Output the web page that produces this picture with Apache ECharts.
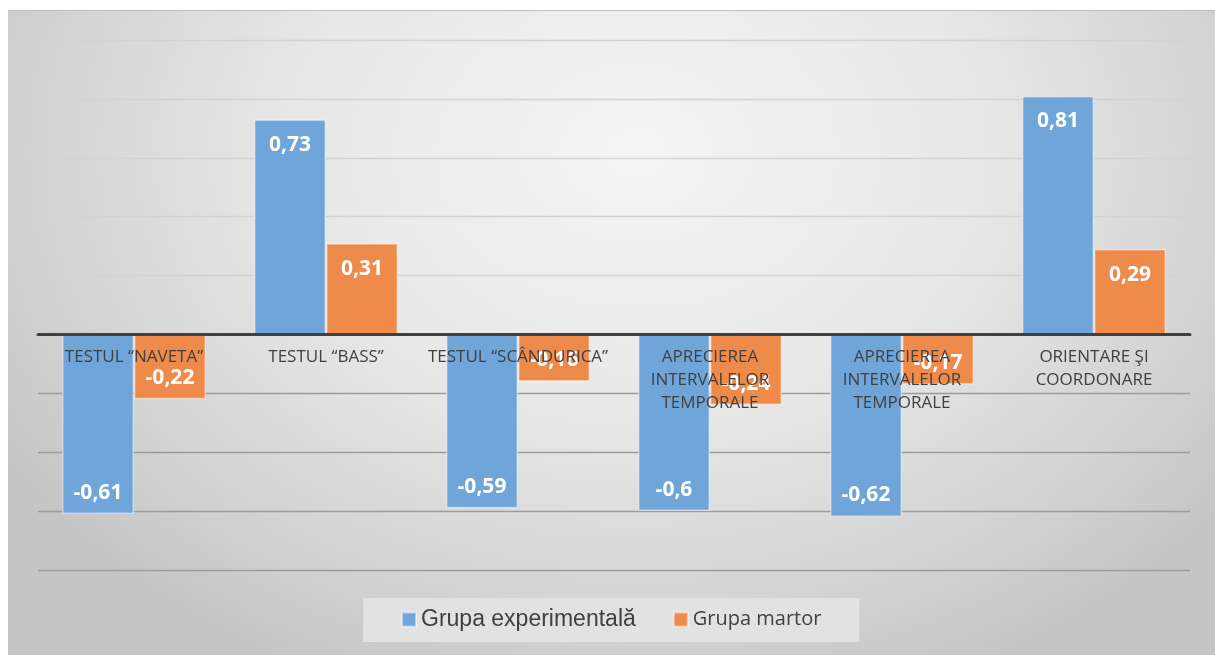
<!DOCTYPE html>
<html>
<head>
<meta charset="utf-8">
<script src="https://cdn.jsdelivr.net/npm/echarts@6/dist/echarts.min.js"></script>
<style>
  html, body { margin: 0; padding: 0; background: #ffffff; }
  #bg {
    position: absolute; left: 8px; top: 10px; right: 0; bottom: 0;
    border-top: 1px solid #bdbdbd;
    background: radial-gradient(ellipse 62% 90% at 52% 22%, #f4f4f4 0%, #e8e8e8 45%, #d4d4d4 78%, #c5c5c5 100%);
  }
  #chart { position: absolute; left: 0; top: 0; width: 1215px; height: 655px; }
</style>
</head>
<body>
<div id="bg"></div>
<div id="chart"></div>
<script>
const categories = [
  'TESTUL \u201CNAVETA\u201D',
  'TESTUL \u201CBASS\u201D',
  'TESTUL \u201CSC\u00C2NDURICA\u201D',
  'APRECIEREA\nINTERVALELOR\nTEMPORALE',
  'APRECIEREA\nINTERVALELOR\nTEMPORALE',
  'ORIENTARE \u015EI\nCOORDONARE'
];
const seriesNames = ['Grupa experimental\u0103', 'Grupa martor'];
const experimental = [-0.61, 0.73, -0.59, -0.6, -0.62, 0.81];
const martor = [-0.22, 0.31, -0.16, -0.24, -0.17, 0.29];
const yTicks = [-0.8, -0.6, -0.4, -0.2, 0, 0.2, 0.4, 0.6, 0.8, 1.0];

const fmt = v => String(v).replace('.', ',');
function withLabels(arr) {
  return arr.map(v => ({
    value: v,
    label: { position: v >= 0 ? 'insideTop' : 'insideBottom', distance: v >= 0 ? 15 : 11 }
  }));
}
const gridColors = yTicks.map(t => t < 0 ? '#9c9c9c' : (t === 0 ? 'rgba(0,0,0,0)' : '#d3d3d3'));

const gridTop = 40, gridBottom = 85, H = 655;
const plotH = H - gridTop - gridBottom;
const yMin = yTicks[0], yMax = yTicks[yTicks.length - 1];
// distance from grid bottom edge up to the zero line (layout only)
const zeroOffset = plotH * (0 - yMin) / (yMax - yMin);

const chart = echarts.init(document.getElementById('chart'), null, { renderer: 'canvas' });
const labelStyle = {
  show: true,
  color: '#ffffff',
  fontFamily: 'Open Sans',
  fontWeight: 'bold',
  fontSize: 21,
  formatter: p => fmt(p.value)
};
chart.setOption({
  backgroundColor: 'transparent',
  animation: false,
  grid: { left: 38, right: 25, top: gridTop, bottom: gridBottom },
  xAxis: {
    type: 'category',
    data: categories,
    z: 10,
    position: 'bottom',
    offset: -zeroOffset,
    axisLine: { onZero: false, lineStyle: { color: '#404040', width: 3 } },
    axisTick: { show: false },
    axisLabel: {
      color: '#404040', fontFamily: 'Open Sans', fontSize: 17,
      lineHeight: 23, margin: 11, interval: 0
    }
  },
  yAxis: {
    type: 'value',
    min: yMin, max: yMax, interval: 0.2,
    axisLabel: { show: false },
    axisLine: { show: false },
    axisTick: { show: false },
    splitLine: { show: true, lineStyle: { color: gridColors, width: 1.3 } }
  },
  legend: {
    left: 363, top: 598,
    padding: [10, 38, 11, 38],
    backgroundColor: '#e2e2e2',
    itemWidth: 14, itemHeight: 14, itemGap: 37,
    icon: 'rect',
    textStyle: { color: '#404040' },
    data: [
      { name: seriesNames[0], textStyle: { fontFamily: 'Liberation Sans', fontSize: 23, color: '#404040' } },
      { name: seriesNames[1], textStyle: { fontFamily: 'Open Sans', fontSize: 20, color: '#404040' } }
    ]
  },
  series: [
    {
      name: seriesNames[0], type: 'bar', data: withLabels(experimental),
      barGap: '0%', barCategoryGap: '25%',
      itemStyle: { color: '#6fa5d8', borderColor: 'rgba(255,255,255,0.45)', borderWidth: 1.5 },
      label: labelStyle
    },
    {
      name: seriesNames[1], type: 'bar', data: withLabels(martor),
      barGap: '0%', barCategoryGap: '25%',
      itemStyle: { color: '#ee8b4a', borderColor: 'rgba(255,255,255,0.45)', borderWidth: 1.5 },
      label: labelStyle
    }
  ]
});
</script>
</body>
</html>
